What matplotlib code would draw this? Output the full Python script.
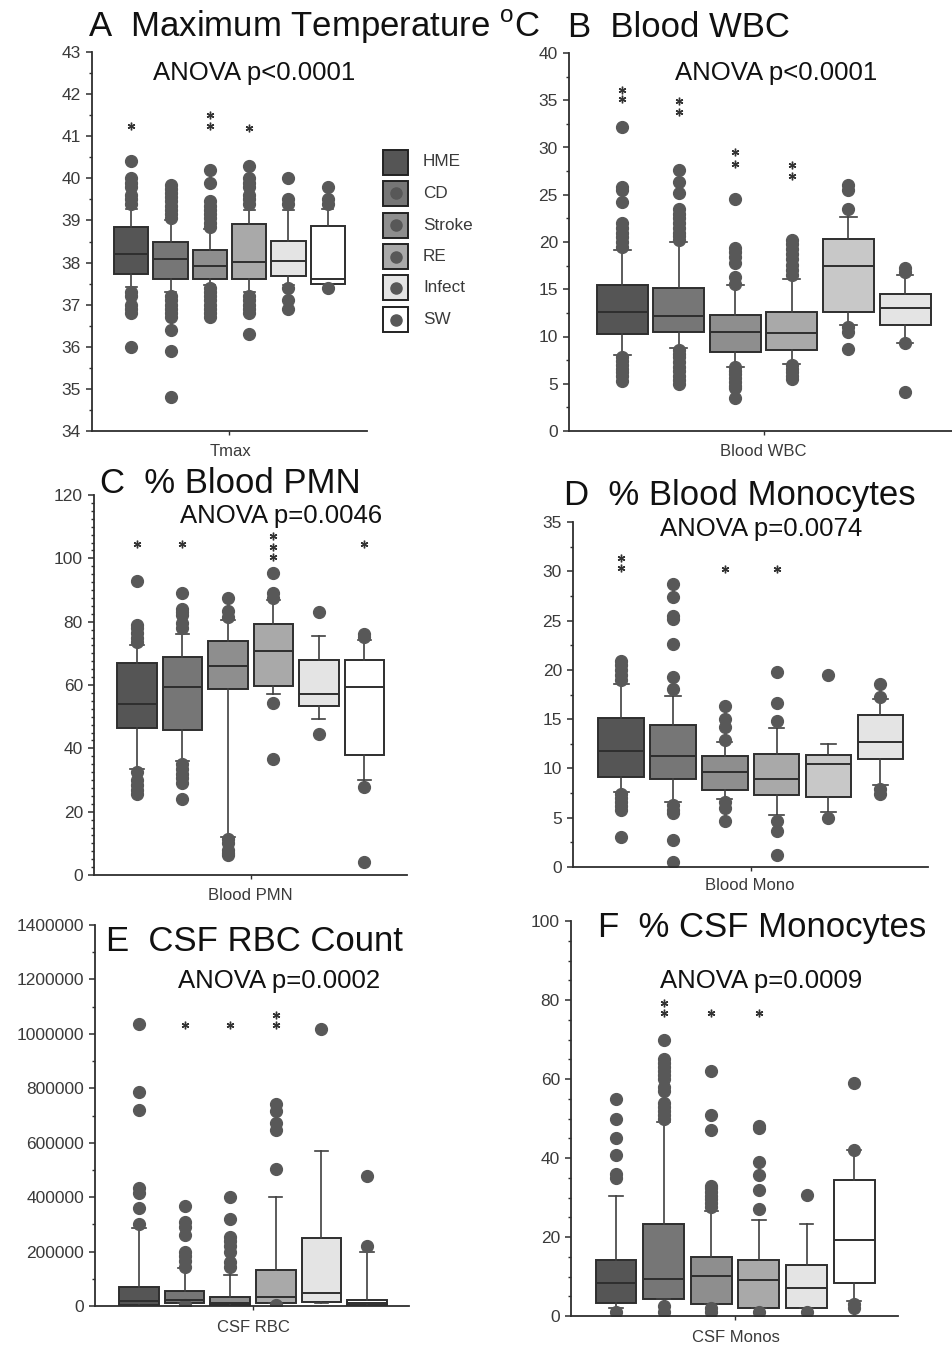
"""
Six box-plot panels: clinical values per diagnosis group
"""
import matplotlib
matplotlib.use('Agg')
import matplotlib.pyplot as plt
from matplotlib.patches import Rectangle
from matplotlib.ticker import MultipleLocator

plt.rcParams['font.family'] = ['Liberation Sans', 'DejaVu Sans']

W, H = 952, 1348

groups = ['HME', 'CD', 'Stroke', 'RE', 'Infect', 'SW']

# ---- Panel A: maximum temperature (q1, median, q3, whisker low, whisker high)
tmax_q1 = [37.72, 37.60, 37.60, 37.60, 37.67, 37.49]
tmax_med = [38.21, 38.09, 37.91, 38.01, 38.03, 37.62]
tmax_q3 = [38.84, 38.50, 38.31, 38.92, 38.51, 38.87]
tmax_lo = [37.42, 37.30, 37.47, 37.30, 37.46, 37.49]
tmax_hi = [39.28, 39.00, 38.80, 39.24, 39.25, 39.28]
tmax_out = [
    [39.4, 39.5, 39.6, 39.8, 39.9, 40.0, 40.4, 37.3, 37.2, 37.0, 36.9, 36.8, 36.0],
    [39.05, 39.15, 39.25, 39.35, 39.45, 39.55, 39.65, 39.75, 39.85,
     37.2, 37.1, 37.0, 36.9, 36.8, 36.7, 36.4, 35.9, 34.8],
    [38.85, 38.95, 39.05, 39.15, 39.25, 39.35, 39.45, 39.9, 40.2,
     37.4, 37.3, 37.2, 37.1, 37.0, 36.9, 36.8, 36.7],
    [39.4, 39.5, 39.6, 39.8, 39.9, 40.0, 40.3, 37.2, 37.1, 37.0, 36.9, 36.8, 36.3],
    [39.4, 39.5, 40.0, 37.4, 37.1, 36.9],
    [39.4, 39.5, 39.8, 37.4],
]
tmax_stars = [(1, 41.25), (3, 41.25), (3, 41.5), (4, 41.2)]

# ---- Panel B: blood WBC
wbc_q1 = [10.3, 10.5, 8.35, 8.52, 12.6, 11.17]
wbc_med = [12.6, 12.2, 10.46, 10.35, 17.5, 13.0]
wbc_q3 = [15.4, 15.1, 12.3, 12.58, 20.3, 14.45]
wbc_lo = [8.0, 8.8, 6.8, 7.1, 11.2, 9.33]
wbc_hi = [19.2, 20.0, 15.4, 16.1, 22.6, 16.5]
wbc_out = [
    [19.5, 20.0, 20.5, 21.0, 21.5, 22.0, 24.2, 25.5, 25.8, 32.2,
     7.8, 7.4, 7.0, 6.6, 6.2, 5.8, 5.3],
    [20.2, 20.6, 21.0, 21.5, 22.0, 22.5, 23.0, 23.5, 25.2, 26.4, 27.6,
     8.6, 8.2, 7.8, 7.3, 6.8, 6.3, 5.8, 5.4, 5.0],
    [15.6, 16.3, 17.8, 18.4, 18.9, 19.4, 24.5,
     6.8, 6.4, 6.0, 5.6, 5.2, 4.8, 4.5, 3.5],
    [16.5, 17.0, 17.6, 18.2, 18.7, 19.3, 19.8, 20.2,
     7.0, 6.6, 6.2, 5.8, 5.5],
    [23.5, 25.5, 26.0, 11.0, 10.5, 8.7],
    [16.8, 17.2, 9.3, 4.1],
]
wbc_stars = [(1, 36.1), (1, 35.1), (2, 34.9), (2, 33.8), (3, 29.5), (3, 28.3),
             (4, 28.2), (4, 27.0)]

# ---- Panel C: % blood PMN
pmn_q1 = [46.4, 45.9, 58.8, 59.8, 53.4, 38.0]
pmn_med = [53.9, 59.3, 66.1, 70.6, 57.3, 59.3]
pmn_q3 = [66.9, 69.0, 73.9, 79.3, 68.0, 68.0]
pmn_lo = [33.5, 36.0, 12.1, 57.3, 49.4, 29.9]
pmn_hi = [72.5, 76.2, 80.4, 86.7, 75.4, 74.1]
pmn_out = [
    [73.5, 75.0, 76.5, 78.0, 79.0, 92.8, 32.5, 30.0, 28.5, 27.0, 25.5],
    [78.0, 79.5, 82.0, 83.0, 84.0, 89.0, 35.0, 33.5, 32.0, 30.5, 29.0, 24.0],
    [81.5, 83.5, 87.5, 11.5, 10.0, 8.0, 7.0, 6.3],
    [87.5, 89.0, 95.3, 54.4, 36.5],
    [82.9, 44.4],
    [75.3, 76.0, 27.8, 4.0],
]
pmn_stars = [(1, 104.5), (2, 104.5), (4, 107.2), (4, 103.7), (4, 100.3), (6, 104.5)]

# ---- Panel D: % blood monocytes
mono_q1 = [9.08, 8.9, 7.86, 7.32, 7.12, 10.95]
mono_med = [11.76, 11.25, 9.66, 8.88, 10.4, 12.64]
mono_q3 = [15.08, 14.4, 11.25, 11.42, 11.39, 15.42]
mono_lo = [7.6, 6.6, 6.85, 5.25, 5.6, 8.3]
mono_hi = [18.6, 17.35, 12.67, 14.13, 12.47, 17.05]
mono_out = [
    [19.0, 19.5, 20.0, 20.5, 20.9, 7.4, 7.0, 6.6, 6.2, 5.8, 3.05],
    [18.1, 19.3, 22.6, 25.2, 25.5, 27.4, 28.7, 6.3, 5.8, 5.5, 2.78, 0.5],
    [12.9, 14.2, 15.0, 16.33, 6.6, 6.0, 4.68],
    [14.8, 16.6, 19.79, 4.7, 3.63, 1.19],
    [19.48, 4.98],
    [17.2, 18.54, 7.9, 7.45],
]
mono_stars = [(1, 31.3), (1, 30.3), (3, 30.2), (4, 30.2)]

# ---- Panel E: CSF RBC count
rbc_q1 = [5000, 12000, 2000, 12000, 16000, 2000]
rbc_med = [20000, 22000, 10000, 32000, 49000, 10000]
rbc_q3 = [68600, 56000, 32000, 132000, 249000, 22000]
rbc_lo = [0, 12000, 0, 12000, 12000, 0]
rbc_hi = [285000, 140000, 114000, 402000, 571000, 200000]
rbc_out = [
    [301000, 359000, 415000, 435000, 721000, 785000, 1035000],
    [145000, 165000, 185000, 200000, 260000, 290000, 310000, 368000, 4000],
    [145000, 160000, 200000, 220000, 240000, 255000, 320000, 402000],
    [503000, 645000, 672000, 715000, 743000, 3000],
    [1018000],
    [221000, 476000],
]
rbc_stars = [(2, 1031000), (3, 1031000), (4, 1031000), (4, 1070000)]

# ---- Panel F: % CSF monocytes
csfm_q1 = [3.3, 4.2, 2.95, 2.1, 2.1, 8.4]
csfm_med = [8.4, 9.3, 10.1, 9.1, 7.2, 19.2]
csfm_q3 = [14.15, 23.4, 14.9, 14.15, 12.9, 34.5]
csfm_lo = [2.1, 4.2, 2.95, 2.1, 2.1, 3.8]
csfm_hi = [30.5, 49.0, 26.5, 24.2, 23.4, 42.0]
csfm_out = [
    [35.0, 36.0, 40.8, 45.0, 50.0, 55.0, 1.0],
    [50.0, 51.0, 52.0, 53.0, 54.0, 57.0, 58.0, 60.0, 61.0, 62.0, 63.0, 64.0,
     65.0, 70.0, 2.5, 1.0],
    [27.5, 28.5, 29.5, 30.5, 31.5, 32.5, 33.0, 47.0, 50.9, 62.1, 2.0, 1.0],
    [27.1, 32.0, 35.7, 39.0, 47.5, 48.0, 1.0],
    [30.7, 1.0],
    [42.0, 59.1, 3.0, 1.9],
]
csfm_stars = [(2, 79.2), (2, 76.7), (3, 76.7), (4, 76.7)]

pal_a = ['#555555', '#767676', '#8e8e8e', '#a9a9a9', '#e4e4e4', '#ffffff']
pal_b = ['#555555', '#767676', '#8e8e8e', '#a9a9a9', '#c8c8c8', '#e4e4e4']
dark = '#2e2e2e'
dot = '#585858'
txt = '#3a3a3a'

TITLE, SUB, TICK, XLAB = 25, 18.5, 12.5, 12

fig = plt.figure(figsize=(W / 100, H / 100), dpi=100)


def box_axes(left, top, right, bottom):
    return fig.add_axes([left / W, 1 - bottom / H, (right - left) / W, (bottom - top) / H])


def draw_panel(ax, q1, med, q3, lo, hi, out, stars, colors, xlim, ylim, major, minor,
               width=0.87):
    stats = []
    for i in range(6):
        stats.append(dict(q1=q1[i], med=med[i], q3=q3[i], whislo=lo[i], whishi=hi[i],
                          fliers=out[i], label=groups[i]))
    pos = list(range(1, 7))
    res = ax.bxp(stats, positions=pos, widths=width, patch_artist=True,
                 capwidths=width * 0.33, manage_ticks=False,
                 boxprops=dict(edgecolor=dark, linewidth=1.4),
                 medianprops=dict(color=dark, linewidth=1.4),
                 whiskerprops=dict(color='#404040', linewidth=1.2),
                 capprops=dict(color='#404040', linewidth=1.2),
                 flierprops=dict(marker='o', markersize=8.5, markerfacecolor=dot,
                                 markeredgecolor=dot, linestyle='none'))
    for patch, c in zip(res['boxes'], colors):
        patch.set_facecolor(c)
    for p, y in stars:
        ax.plot(p, y, marker=(6, 2, 0), markersize=5.5, color='#333333',
                markeredgewidth=1.0, linestyle='none', clip_on=False)
    ax.set_xlim(*xlim)
    ax.set_ylim(*ylim)
    ax.set_xticks([3.5])
    ax.set_xticklabels([])
    ax.yaxis.set_major_locator(MultipleLocator(major))
    ax.yaxis.set_minor_locator(MultipleLocator(minor))
    for s in ['top', 'right']:
        ax.spines[s].set_visible(False)
    for s in ['left', 'bottom']:
        ax.spines[s].set_color(dark)
        ax.spines[s].set_linewidth(1.3)
    ax.tick_params(axis='y', which='major', length=4, width=1.1, color=dark,
                   labelsize=TICK, labelcolor=txt, pad=4)
    ax.tick_params(axis='y', which='minor', length=2.5, width=1.0, color=dark)
    ax.tick_params(axis='x', length=3, width=1.0, color=dark)
    ax.set_facecolor('none')


def ftext(x, y, s, size, ha='left', va='baseline', color='#111111'):
    fig.text(x / W, 1 - y / H, s, fontsize=size, ha=ha, va=va, color=color)


# Panel A
ax = box_axes(92, 52, 367, 431)
draw_panel(ax, tmax_q1, tmax_med, tmax_q3, tmax_lo, tmax_hi, tmax_out, tmax_stars,
           pal_a, (0.0, 7.0), (34, 43), 1, 0.5)
ftext(88, 37, 'A  Maximum Temperature $^{\\mathregular{o}}$C', TITLE)
ftext(153, 80, 'ANOVA p<0.0001', SUB)
ftext(230, 451, 'Tmax', XLAB, ha='center', va='center', color=txt)

# legend drawn in pixel coordinates
lax = fig.add_axes([370 / W, 1 - 340 / H, 120 / W, 200 / H])
lax.set_xlim(370, 490)
lax.set_ylim(340, 140)
lax.axis('off')
leg_y = [162, 193, 225, 257, 288, 320]
for gname, c, yy in zip(groups, pal_a, leg_y):
    lax.add_patch(Rectangle((383, yy - 12.5), 25, 25, facecolor=c, edgecolor='#222222',
                            linewidth=1.4))
    if gname != 'HME':
        lax.plot(395.5, yy, 'o', markersize=8, color=dot)
    lax.text(423, yy, gname, fontsize=12.3, va='center', ha='left', color=txt)

# Panel B
ax = box_axes(569, 53, 952, 431)
draw_panel(ax, wbc_q1, wbc_med, wbc_q3, wbc_lo, wbc_hi, wbc_out, wbc_stars,
           pal_b, (0.06, 6.83), (0, 40), 5, 2.5, width=0.9)
ftext(568, 37, 'B  Blood WBC', TITLE)
ftext(675, 80, 'ANOVA p<0.0001', SUB)
ftext(763, 451, 'Blood WBC', XLAB, ha='center', va='center', color=txt)

# Panel C
ax = box_axes(94, 495, 407, 875)
draw_panel(ax, pmn_q1, pmn_med, pmn_q3, pmn_lo, pmn_hi, pmn_out, pmn_stars,
           pal_a, (0.055, 6.935), (0, 120), 20, 2.5)
ftext(100, 493, 'C  % Blood PMN', TITLE)
ftext(180, 523, 'ANOVA p=0.0046', SUB)
ftext(250, 895, 'Blood PMN', XLAB, ha='center', va='center', color=txt)

# Panel D
ax = box_axes(573, 522, 928, 867)
draw_panel(ax, mono_q1, mono_med, mono_q3, mono_lo, mono_hi, mono_out, mono_stars,
           pal_b, (0.07, 6.92), (0, 35), 5, 2.5, width=0.88)
ftext(564, 505, 'D  % Blood Monocytes', TITLE)
ftext(660, 536, 'ANOVA p=0.0074', SUB)
ftext(750, 885, 'Blood Mono', XLAB, ha='center', va='center', color=txt)

# Panel E
ax = box_axes(95, 925, 409, 1306)
draw_panel(ax, rbc_q1, rbc_med, rbc_q3, rbc_lo, rbc_hi, rbc_out, rbc_stars,
           pal_a, (0.035, 6.92), (0, 1400000), 200000, 100000)
ax.yaxis.set_major_formatter(matplotlib.ticker.FuncFormatter(lambda v, p: '%d' % v))
ftext(106, 951, 'E  CSF RBC Count', TITLE)
ftext(178, 988, 'ANOVA p=0.0002', SUB)
ftext(253, 1327, 'CSF RBC', XLAB, ha='center', va='center', color=txt)

# Panel F
ax = box_axes(571, 921, 898, 1316)
draw_panel(ax, csfm_q1, csfm_med, csfm_q3, csfm_lo, csfm_hi, csfm_out, csfm_stars,
           pal_a, (0.055, 6.92), (0, 100), 20, 5, width=0.86)
ftext(598, 937, 'F  % CSF Monocytes', TITLE)
ftext(660, 988, 'ANOVA p=0.0009', SUB)
ftext(736, 1338, 'CSF Monos', XLAB, ha='center', va='center', color=txt)

fig.savefig('out.png', dpi=100)
